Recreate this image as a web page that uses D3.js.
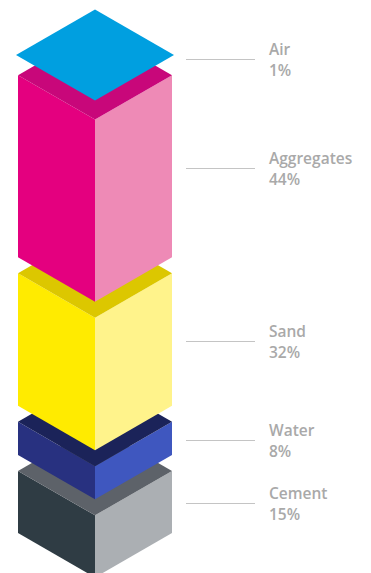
<!DOCTYPE html>
<html>
<head>
    <meta charset="utf-8" />
    <title>Concrete composition</title>
    <script src="https://d3js.org/d3.v7.min.js" charset="utf-8"></script>
    <style>
        body { margin: 0; background: #fff; }
    </style>
</head>
<body>
    <script>
        // Components from top of the stack to the bottom
        const components = ["Air", "Aggregates", "Sand", "Water", "Cement"];
        const shares = [1, 44, 32, 8, 15];
        const topColors = ["#009fe0", "#c8077a", "#dcc700", "#1b2359", "#5d6269"];
        const leftColors = ["#009fe0", "#e4007f", "#ffeb00", "#283180", "#2f3c44"];
        const rightColors = ["#009fe0", "#ee8ab6", "#fff38b", "#3f57bf", "#abafb3"];

        const width = 371, height = 573;
        const cx = 95;          // front edge of the column
        const halfW = 77;       // half diagonal of the top faces
        const gap = 16;
        const stackTop = 55;

        // height of a segment in px per percent
        const h = d3.scaleLinear().domain([0, 100]).range([0, 414]);

        const svg = d3.select("body")
            .append("svg")
            .attr("width", width)
            .attr("height", height);

        // work out where each segment starts and ends
        const data = [];
        let y = stackTop;
        components.forEach((name, i) => {
            const t = y;
            const b = t + h(shares[i]);
            data.push({ name: name, value: shares[i], top: t, bottom: b, i: i });
            y = b + gap;
        });

        const line = d3.line();

        // draw from the bottom up so upper boxes cover the lower top faces
        const boxes = svg.selectAll(".box")
            .data(data.slice().reverse())
            .enter()
            .append("g")
            .attr("class", "box");

        boxes.each(function(d) {
            const g = d3.select(this);
            const w = d.name === "Air" ? halfW + 2 : halfW;
            const hh = w * Math.tan(Math.PI / 6);
            if (d.name !== "Air") {
                g.append("path")
                    .attr("d", line([[cx - w, d.top], [cx, d.top + hh], [cx, d.bottom + hh], [cx - w, d.bottom]]) + "Z")
                    .attr("fill", leftColors[d.i]);
                g.append("path")
                    .attr("d", line([[cx, d.top + hh], [cx + w, d.top], [cx + w, d.bottom], [cx, d.bottom + hh]]) + "Z")
                    .attr("fill", rightColors[d.i]);
            }
            g.append("path")
                .attr("d", line([[cx, d.top - hh], [cx + w, d.top], [cx, d.top + hh], [cx - w, d.top]]) + "Z")
                .attr("fill", topColors[d.i]);
        });

        // labels with leader lines
        const labels = svg.selectAll(".label")
            .data(data)
            .enter()
            .append("g")
            .attr("class", "label")
            .attr("transform", d => `translate(0, ${Math.round((d.top + d.bottom) / 2 + 1.5)})`);

        labels.append("line")
            .attr("x1", 186)
            .attr("x2", 255)
            .attr("y1", 0.5)
            .attr("y2", 0.5)
            .attr("stroke", "#c4c4c4")
            .attr("stroke-width", 1.2);

        const txt = labels.append("text")
            .attr("x", 269)
            .attr("fill", "#a9a9a9")
            .attr("font-family", "'Open Sans', 'Noto Sans', sans-serif")
            .attr("font-weight", 600)
            .attr("font-size", "15.5px");

        txt.append("tspan")
            .attr("x", 269)
            .attr("y", -4)
            .text(d => d.name);

        txt.append("tspan")
            .attr("x", 269)
            .attr("y", 17)
            .text(d => d.value + "%");
    </script>
</body>
</html>
